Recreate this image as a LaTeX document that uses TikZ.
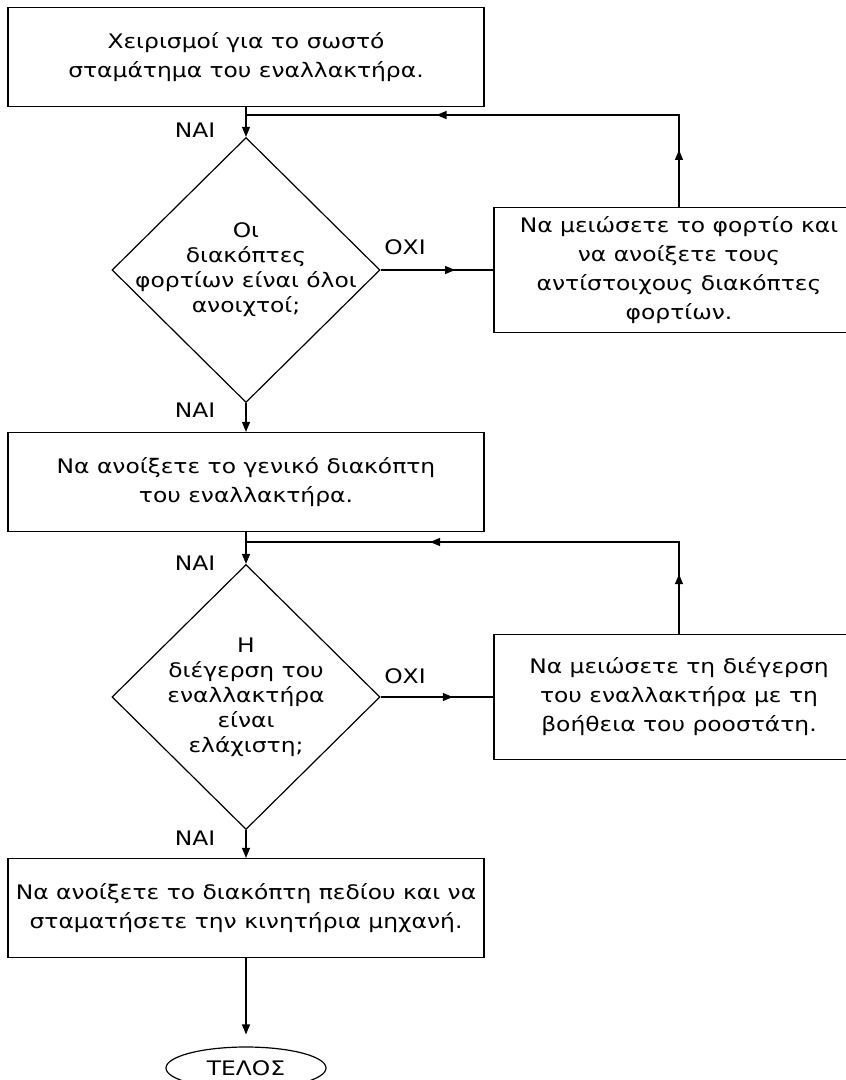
\documentclass[tikz,border=0pt]{standalone}
\usepackage{fontspec}
\setmainfont{DejaVu Sans}[FakeStretch=1.17]
\usetikzlibrary{arrows.meta, positioning, calc, shapes.geometric}

\begin{document}
\begin{tikzpicture}[
  x=1pt, y=-1pt,
  font=\fontsize{20}{29}\selectfont,
  flow/.style={line width=1.2pt, -{Triangle[length=10pt,width=8pt]}},
  plain/.style={line width=1.2pt},
  box/.style={
    draw,
    line width=1.2pt,
    rectangle,
    minimum width=476pt,
    minimum height=99pt,
    inner sep=0pt,
    align=center
  },
  sidebox/.style={box, minimum width=370pt, minimum height=125pt},
  decision/.style={
    draw,
    line width=1.2pt,
    diamond,
    minimum width=268pt,
    minimum height=265pt,
    inner sep=0pt
  },
  inside/.style={align=center, font=\fontsize{20}{25}\selectfont},
  answer/.style={inner sep=0pt},
  endnode/.style={draw, line width=1.2pt, ellipse, minimum width=160pt, minimum height=42pt, inner sep=0pt}
]

  \path[use as bounding box, clip] (0,0) rectangle (846,1080);

  % main column
  \node[box] (start) at (246,57) {Χειρισμοί για το σωστό\\σταμάτημα του εναλλακτήρα.};
  \node[decision, label={[inside]center:Οι\\διακόπτες\\φορτίων είναι όλοι\\ανοιχτοί;}] (loads) at (246,270) {};
  \node[box] (mainsw) at (246,482) {Να ανοίξετε το γενικό διακόπτη\\του εναλλακτήρα.};
  \node[decision, label={[inside]center:Η\\διέγερση του\\εναλλακτήρα\\είναι\\ελάχιστη;}] (excit) at (246,697) {};
  \node[box] (fieldsw) at (246,908) {Να ανοίξετε το διακόπτη πεδίου και να\\σταματήσετε την κινητήρια μηχανή.};
  \node[endnode] (stop) at (246,1068) {ΤΕΛΟΣ};

  % side boxes
  \node[sidebox] (reduce) at (679,270) {Να μειώσετε το φορτίο και\\να ανοίξετε τους\\αντίστοιχους διακόπτες\\φορτίων.};
  \node[sidebox] (rheo) at (679,697) {Να μειώσετε τη διέγερση\\του εναλλακτήρα με τη\\βοήθεια του ροοστάτη.};

  \coordinate (join1) at (246,115);
  \coordinate (join2) at (246,542);

  % answers
  \node[answer] (yes1) at (195,130) {ΝΑΙ};
  \node[answer] (yes2) at (195,410) {ΝΑΙ};
  \node[answer] (yes3) at (195,563) {ΝΑΙ};
  \node[answer] (yes4) at (195,838) {ΝΑΙ};
  \node[answer] (no1) at (405,247) {ΟΧΙ};
  \node[answer] (no2) at (405,676) {ΟΧΙ};

  % downward flow
  \draw[flow] (start.south) -- (loads.north);
  \draw[flow] (loads.south) -- (mainsw.north);
  \draw[flow] (mainsw.south) -- (excit.north);
  \draw[flow] (excit.south) -- (fieldsw.north);
  \draw[flow, shorten >=12pt] (fieldsw.south) -- (stop.north);

  % first loop
  \draw[plain] (loads.east) -- (reduce.west);
  \draw[flow] (loads.east) -- ($(loads.east)!0.66!(reduce.west)$);
  \draw[plain] (reduce.north) |- (join1);
  \draw[flow] (reduce.north) -- ($(reduce.north)!0.62!(reduce.north |- join1)$);
  \draw[flow] (reduce.north |- join1) -- ($(reduce.north |- join1)!0.56!(join1)$);

  % second loop
  \draw[plain] (excit.east) -- (rheo.west);
  \draw[flow] (excit.east) -- ($(excit.east)!0.64!(rheo.west)$);
  \draw[plain] (rheo.north) |- (join2);
  \draw[flow] (rheo.north) -- ($(rheo.north)!0.65!(rheo.north |- join2)$);
  \draw[flow] (rheo.north |- join2) -- ($(rheo.north |- join2)!0.575!(join2)$);

\end{tikzpicture}
\end{document}
